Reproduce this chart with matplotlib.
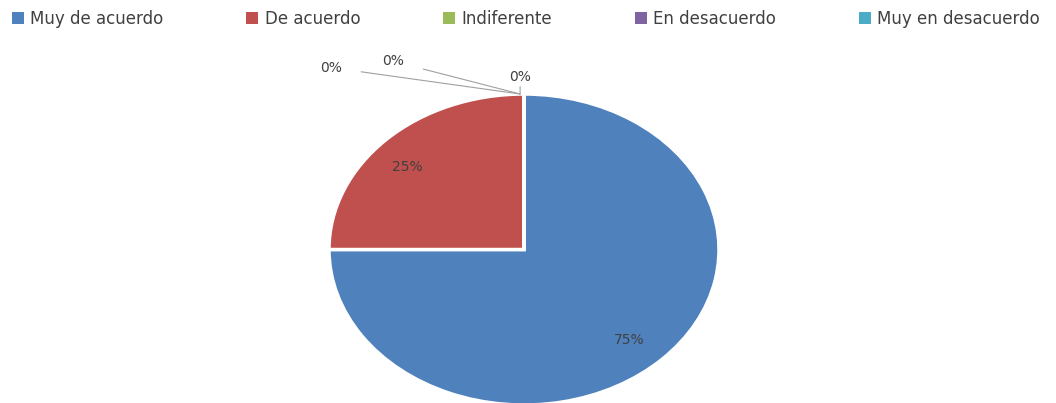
import matplotlib.pyplot as plt
from matplotlib.patches import Patch

# Datos
categorias = ['Muy de acuerdo', 'De acuerdo', 'Indiferente', 'En desacuerdo', 'Muy en desacuerdo']
valores = [75, 25, 0, 0, 0]
colores = ['#4F81BD', '#C0504D', '#9BBB59', '#8064A2', '#4BACC6']

fig = plt.figure(figsize=(10.56, 4.03), dpi=100)
# ejes colocados para que el pastel salga eliptico como en la imagen
ax = fig.add_axes([329 / 1056, -0.005, 390 / 1056, 311 / 403])

wedges, textos = ax.pie(valores, colors=colores, startangle=90, counterclock=False,
                        wedgeprops=dict(edgecolor='white', linewidth=2.5))
ax.set_aspect('auto')
ax.set_xlim(-1, 1)
ax.set_ylim(-1, 1)
ax.axis('off')

# etiquetas de porcentaje
gris = '#404040'
ax.text(0.54, -0.58, f'{valores[0]}%', ha='center', va='center', fontsize=10, color=gris)
ax.text(-0.60, 0.53, f'{valores[1]}%', ha='center', va='center', fontsize=10, color=gris)

# etiquetas de los sectores en cero con lineas guia
pos_cero = [(-0.99, 1.17), (-0.67, 1.21), (-0.02, 1.11)]
for v, (x, y) in zip(valores[2:], pos_cero):
    ax.annotate(f'{v}%', xy=(-0.02, 1.0), xytext=(x, y), ha='center', va='center',
                fontsize=10, color=gris, annotation_clip=False,
                arrowprops=dict(arrowstyle='-', color='#A0A0A0', lw=0.8,
                                shrinkA=12, shrinkB=0))

handles = [Patch(facecolor=c, edgecolor='none') for c in colores]
fig.legend(handles, categorias, loc='upper left', bbox_to_anchor=(2 / 1056, 1.0, 1048 / 1056, 0.0),
           mode='expand', ncol=5, frameon=False, fontsize=12, handlelength=0.7,
           handleheight=0.7, handletextpad=0.4, labelcolor=gris, borderaxespad=0.2)

fig.savefig('out.png', dpi=100)
